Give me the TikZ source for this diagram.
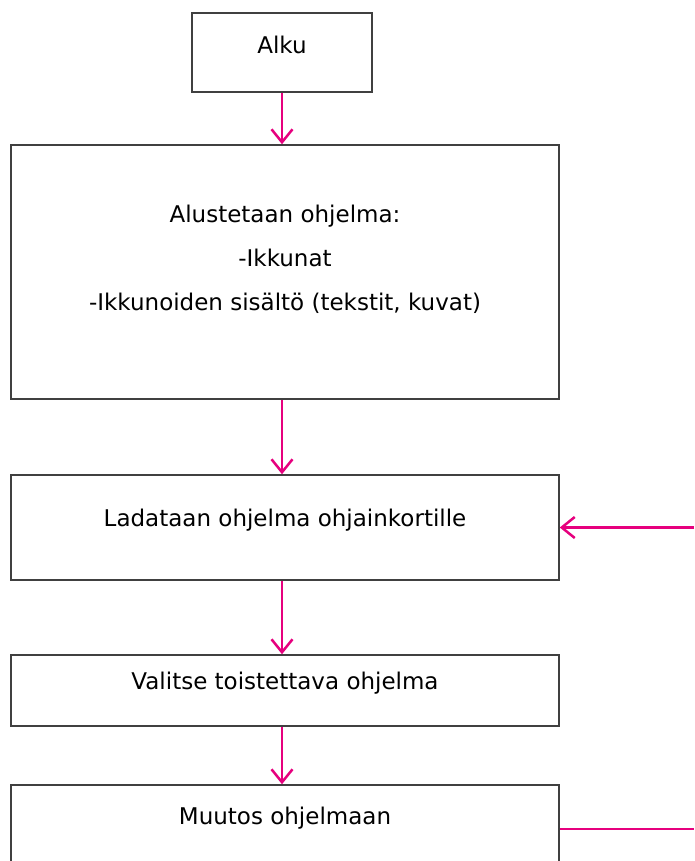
\documentclass[tikz,border=0pt]{standalone}
\usepackage{fontspec}
\setmainfont{DejaVu Sans}
\usetikzlibrary{arrows.meta}
\definecolor{flowpink}{RGB}{230,0,126}
\tikzset{
  box/.style={draw=black!75, line width=1.5pt, rectangle, inner sep=0pt, minimum width=548pt},
  lbl/.style={font=\fontsize{23}{44}\selectfont, align=center, yshift=#1},
  lbl/.default=7.5pt,
  flow/.style={flowpink, line width=2.5pt, -{Straight Barb[length=13pt,width=21pt]}}
}

\begin{document}
\begin{tikzpicture}[x=1pt,y=-1pt]
    \useasboundingbox (0,0) rectangle (694,861);

    \node[box, minimum width=180pt, minimum height=79pt, label={[lbl]center:Alku}] (start) at (282,52.5) {};
    \node[box, minimum height=254pt,
      label={[lbl=13pt]center:Alustetaan ohjelma:\\-Ikkunat\\-Ikkunoiden sisältö (tekstit, kuvat)}] (init) at (285,272) {};
    \node[box, minimum height=105pt, label={[lbl]center:Ladataan ohjelma ohjainkortille}] (load) at (285,527.5) {};
    \node[box, minimum height=71pt, label={[lbl]center:Valitse toistettava ohjelma}] (select) at (285,690.5) {};
    \node[box, minimum height=88pt, label={[lbl=11pt]center:Muutos ohjelmaan}] (change) at (285,829) {};

    % paluu oikealta
    \coordinate (backin) at (694,527.5);
    \coordinate (backout) at (694,829);

    \draw[flow] (start.south) -- (start.south |- init.north);
    \draw[flow] (start.south |- init.south) -- (start.south |- load.north);
    \draw[flow] (start.south |- load.south) -- (start.south |- select.north);
    \draw[flow] (start.south |- select.south) -- (start.south |- change.north);
    \draw[flow] (backin) -- (load.east);
    \draw[flowpink, line width=2.5pt] (change.east) -- (backout);
\end{tikzpicture}
\end{document}
